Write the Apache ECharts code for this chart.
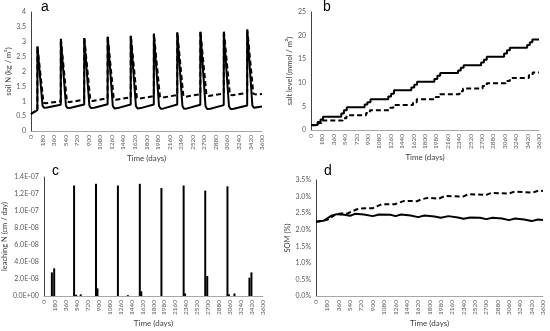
<!DOCTYPE html>
<html><head><meta charset="utf-8">
<script src="https://cdn.jsdelivr.net/npm/echarts@6/dist/echarts.min.js"></script>
<style>html,body{margin:0;padding:0;background:#fff}#c{width:550px;height:331px}</style>
</head><body><div id="c"></div>
<script>
// ---- Data ----
const xTicks = ['0','180','360','540','720','900','1080','1260','1440','1620','1800','1980','2160','2340','2520','2700','2880','3060','3240','3420','3600'];
const cTicks = ['0.0E+00','2.0E-08','4.0E-08','6.0E-08','8.0E-08','1.0E-07','1.2E-07','1.4E-07'];
const dTicks = ['0.0%','0.5%','1.0%','1.5%','2.0%','2.5%','3.0%','3.5%'];

// panel a: soil N (kg/m2)
const soilN_solid = [[0,0.57],[40,0.63],[99,0.7],[100,2.85],[180,0.85],[205,0.78],[250,0.79],[464,0.88],
 [465,3.08],[545,0.85],[570,0.77],[620,0.78],[829,0.89],
 [830,3.12],[910,0.85],[935,0.77],[985,0.78],[1194,0.9],
 [1195,3.17],[1275,0.84],[1300,0.76],[1350,0.77],[1554,0.89],
 [1555,3.2],[1635,0.84],[1660,0.76],[1710,0.77],[1914,0.89],
 [1915,3.25],[1995,0.84],[2020,0.75],[2070,0.76],[2279,0.89],
 [2280,3.3],[2360,0.84],[2385,0.75],[2435,0.76],[2639,0.88],
 [2640,3.33],[2720,0.83],[2745,0.74],[2795,0.75],[3004,0.87],
 [3005,3.3],[3085,0.84],[3110,0.74],[3160,0.75],[3369,0.86],
 [3370,3.38],[3450,0.85],[3475,0.78],[3525,0.8],[3600,0.82]];
const soilN_dashed = [[0,0.57],[40,0.63],[99,0.7],[100,2.85],[195,0.95],[230,0.93],[464,1.0],
 [465,3.1],[560,0.99],[595,0.97],[829,1.05],
 [830,3.15],[925,1.03],[960,1.01],[1194,1.1],
 [1195,3.2],[1290,1.07],[1325,1.05],[1554,1.13],
 [1555,3.22],[1650,1.11],[1685,1.09],[1914,1.17],
 [1915,3.28],[2010,1.14],[2045,1.12],[2279,1.21],
 [2280,3.32],[2375,1.17],[2410,1.15],[2639,1.24],
 [2640,3.36],[2735,1.2],[2770,1.18],[3004,1.26],
 [3005,3.38],[3100,1.22],[3135,1.2],[3369,1.28],
 [3370,3.42],[3465,1.25],[3500,1.23],[3600,1.24]];

// panel b: salt level (mmol/m2), step values
const salt_solid = [[0,1.05],[104,1.7],[150,2.2],[190,2.8],[478,3.5],[520,4.2],[565,4.8],[847,5.4],[890,5.9],[940,6.5],
 [1220,7.1],[1265,7.7],[1310,8.4],[1584,9.0],[1630,9.6],[1675,10.2],[1948,10.8],[1995,11.5],[2040,12.1],
 [2322,12.6],[2365,13.2],[2410,13.7],[2686,14.3],[2730,14.9],[2775,15.5],[3049,16.2],[3095,16.9],[3140,17.4],
 [3413,18.0],[3455,18.6],[3495,19.2],[3600,19.2]];
const salt_dashed = [[0,1.0],[115,1.5],[165,2.0],[500,2.5],[560,3.1],[870,3.6],[930,4.2],[1240,4.7],[1300,5.3],
 [1610,5.9],[1670,6.5],[1970,7.0],[2035,7.6],[2345,8.2],[2400,8.8],[2710,9.3],[2775,9.9],[3075,10.4],[3140,11.0],
 [3440,11.6],[3500,12.2],[3600,12.2]];

// panel c: leaching N (cm/day)
const leach = [[131,2.78e-8],[169,3.25e-8],[496,1.30e-7],[530,1.5e-9],[605,2e-9],[856,1.32e-7],[880,9e-9],
 [1216,1.30e-7],[1380,1e-9],[1576,1.32e-7],[1600,5.5e-9],[1931,1.27e-7],[2296,1.30e-7],[2320,3e-9],
 [2651,1.24e-7],[2684,2.35e-8],[3016,1.29e-7],[3040,2e-9],[3131,3e-9],[3377,2.15e-8],[3410,2.78e-8]];

// panel d: SOM (%)
const som_solid = [[0,2.24],[120,2.27],[240,2.42],[330,2.47],[450,2.45],[540,2.42],[620,2.48],[760,2.46],[900,2.41],
 [1000,2.46],[1180,2.45],[1260,2.41],[1350,2.46],[1500,2.43],[1620,2.38],[1720,2.43],[1880,2.40],[1980,2.36],
 [2100,2.41],[2250,2.37],[2340,2.33],[2450,2.37],[2600,2.36],[2700,2.32],[2800,2.36],[2950,2.34],[3060,2.29],
 [3160,2.34],[3300,2.31],[3420,2.26],[3520,2.31],[3600,2.29]];
const som_dashed = [[0,2.24],[180,2.30],[300,2.45],[400,2.49],[500,2.49],[580,2.56],[680,2.64],[900,2.65],
 [960,2.70],[1040,2.77],[1250,2.77],[1310,2.81],[1400,2.87],[1600,2.86],[1680,2.92],[1770,2.96],[1950,2.94],
 [2050,3.02],[2330,3.00],[2420,3.07],[2700,3.05],[2780,3.11],[3060,3.09],[3150,3.15],[3440,3.12],[3530,3.18],[3600,3.17]];

// ---- Chart ----
const FONT = 'Lato';
const chart = echarts.init(document.getElementById('c'));
function xAx(i){
  return {gridIndex:i, type:'value', min:0, max:3600, interval:180,
    name:'Time (days)', nameLocation:'middle', nameGap:21,
    nameTextStyle:{fontFamily:FONT, fontSize:8, color:'#404040'},
    axisLine:{show:true, onZero:false, lineStyle:{color:'#a6a6a6', width:1}},
    axisTick:{show:false}, splitLine:{show:false},
    axisLabel:{rotate:90, fontFamily:FONT, fontSize:6.5, color:'#595959', margin:4,
      formatter:(v)=>xTicks[Math.round(v/180)]}};
}
function yAx(i, min, max, interval, name, gap, fmt){
  return {gridIndex:i, type:'value', min:min, max:max, interval:interval,
    name:name, nameLocation:'middle', nameGap:gap,
    nameTextStyle:{fontFamily:FONT, fontSize:7.5, color:'#404040'},
    axisLine:{show:true, lineStyle:{color:'#404040', width:1}},
    axisTick:{show:false}, splitLine:{show:false},
    axisLabel:{fontFamily:FONT, fontSize:7, color:'#595959', margin:5, formatter:fmt}};
}
const solidStyle = {color:'#000', width:2};
const dashStyle = {color:'#000', width:2, type:[5,3]};
chart.setOption({
  animation:false,
  grid:[
    {left:31, right:288, top:12, bottom:200},
    {left:311, right:11, top:12, bottom:201},
    {left:43, right:287, top:177, bottom:35},
    {left:316, right:7, top:180, bottom:35}
  ],
  xAxis:[xAx(0), xAx(1), xAx(2), xAx(3)],
  yAxis:[
    yAx(0, 0, 4, 0.5, 'soil N (kg / m²)', 17, null),
    yAx(1, 0, 25, 5, 'salt level (mmol / m²)', 14, null),
    yAx(2, 0, 1.4e-7, 2e-8, 'leaching N (cm / day)', 30, (v)=>cTicks[Math.round(v/2e-8)]),
    yAx(3, 0, 3.5, 0.5, 'SOM (%)', 22, (v)=>dTicks[Math.round(v/0.5)])
  ],
  series:[
    {type:'line', xAxisIndex:0, yAxisIndex:0, data:soilN_dashed, showSymbol:false, lineStyle:dashStyle, z:2},
    {type:'line', xAxisIndex:0, yAxisIndex:0, data:soilN_solid, showSymbol:false, lineStyle:solidStyle, z:3},
    {type:'line', xAxisIndex:1, yAxisIndex:1, data:salt_dashed, step:'end', showSymbol:false, lineStyle:dashStyle},
    {type:'line', xAxisIndex:1, yAxisIndex:1, data:salt_solid, step:'end', showSymbol:false, lineStyle:solidStyle},
    {type:'bar', xAxisIndex:2, yAxisIndex:2, data:leach, barWidth:2, itemStyle:{color:'#000'}},
    {type:'line', xAxisIndex:3, yAxisIndex:3, data:som_dashed, showSymbol:false, lineStyle:dashStyle},
    {type:'line', xAxisIndex:3, yAxisIndex:3, data:som_solid, showSymbol:false, lineStyle:solidStyle}
  ],
  graphic:[
    {type:'text', left:41, top:0, style:{text:'a', fontFamily:'Liberation Sans', fontSize:14, fill:'#000'}},
    {type:'text', left:323, top:0, style:{text:'b', fontFamily:'Liberation Sans', fontSize:14, fill:'#000'}},
    {type:'text', left:52, top:164, style:{text:'c', fontFamily:'Liberation Sans', fontSize:14, fill:'#000'}},
    {type:'text', left:324, top:164, style:{text:'d', fontFamily:'Liberation Sans', fontSize:14, fill:'#000'}}
  ]
});
</script></body></html>
